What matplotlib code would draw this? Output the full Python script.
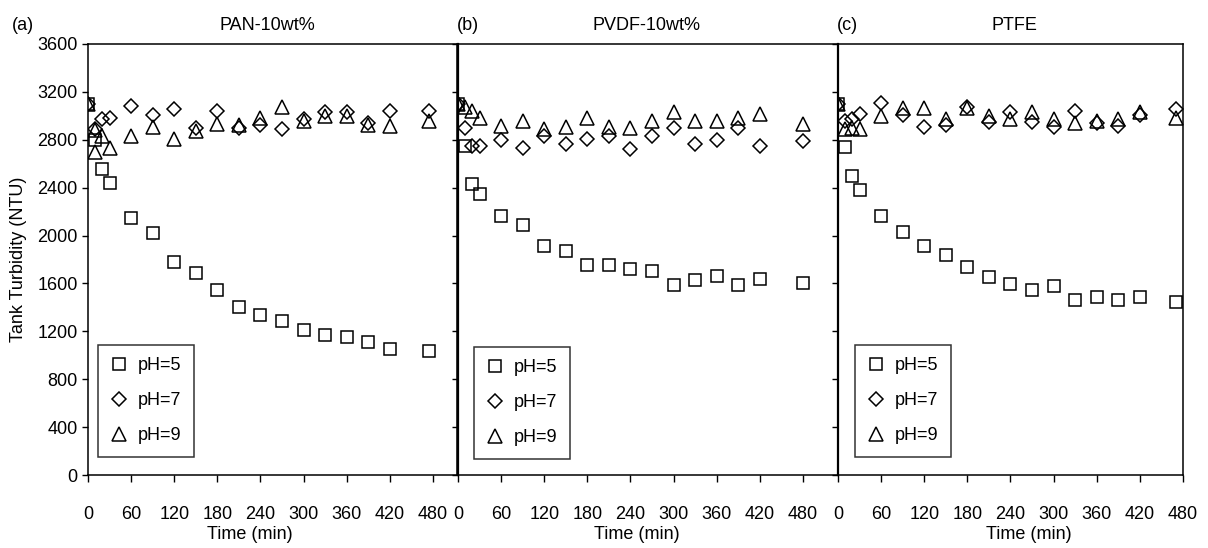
import matplotlib
matplotlib.use("Agg")
import matplotlib.pyplot as plt

plt.rcParams["font.family"] = ["Liberation Sans", "DejaVu Sans"]
plt.rcParams["font.size"] = 13

# (a) PAN-10wt%
t_a = [0, 10, 20, 30, 60, 90, 120, 150, 180, 210, 240, 270, 300, 330, 360, 390, 420, 475]
a_ph5 = [3100, 2800, 2560, 2440, 2150, 2025, 1775, 1690, 1545, 1400, 1340, 1290, 1215, 1170, 1150, 1115, 1050, 1035]
a_ph7 = [3100, 2890, 2975, 2985, 3085, 3005, 3055, 2900, 3040, 2900, 2920, 2890, 2970, 3030, 3035, 2940, 3040, 3040]
t_a9 = [0, 10, 10, 20, 30, 60, 90, 120, 150, 180, 210, 240, 270, 300, 330, 360, 390, 420, 475]
a_ph9 = [3100, 2700, 2880, 2830, 2730, 2835, 2905, 2810, 2875, 2930, 2920, 2985, 3070, 2960, 3000, 3000, 2920, 2915, 2955]

# (b) PVDF-10wt%
t_b = [0, 10, 20, 30, 60, 90, 120, 150, 180, 210, 240, 270, 300, 330, 360, 390, 420, 480]
b_ph5 = [3100, 2750, 2430, 2350, 2165, 2090, 1915, 1875, 1755, 1750, 1720, 1705, 1590, 1625, 1660, 1590, 1640, 1600]
b_ph7 = [3100, 2895, 2745, 2745, 2800, 2735, 2835, 2765, 2805, 2835, 2720, 2830, 2895, 2765, 2800, 2895, 2745, 2790]
b_ph9 = [3100, 3070, 3040, 2980, 2915, 2960, 2890, 2905, 2985, 2910, 2895, 2960, 3030, 2960, 2960, 2985, 3015, 2930]

# (c) PTFE
t_c = [0, 10, 20, 30, 60, 90, 120, 150, 180, 210, 240, 270, 300, 330, 360, 390, 420, 470]
c_ph5 = [3100, 2740, 2500, 2380, 2165, 2030, 1915, 1835, 1735, 1655, 1595, 1545, 1575, 1460, 1485, 1465, 1485, 1445]
c_ph7 = [3100, 2960, 2970, 3015, 3110, 3010, 2905, 2920, 3075, 2950, 3030, 2945, 2905, 3040, 2940, 2915, 3005, 3055]
c_ph9 = [3100, 2890, 2900, 2890, 3000, 3065, 3065, 2970, 3065, 3000, 2970, 3030, 2970, 2940, 2960, 2975, 3030, 2985]

panels = [
    ("(a)", "PAN-10wt%", t_a, a_ph5, t_a, a_ph7, t_a9, a_ph9),
    ("(b)", "PVDF-10wt%", t_b, b_ph5, t_b, b_ph7, t_b, b_ph9),
    ("(c)", "PTFE", t_c, c_ph5, t_c, c_ph7, t_c, c_ph9),
]

W, H = 1208, 548
fig = plt.figure(figsize=(W / 100, H / 100), dpi=100)

# panel frames in pixels: left, right; common top/bottom
frames = [(88, 457), (458, 838), (838, 1183)]
top, bottom = 44, 475
px_per_min = 43.1 / 60
xlabel_x = [250, 637, 1029]
tag_x = [12, 457, 837]
title_x = [267, 647, 1014]
legend_anchor = [(98, 457), (474, 459), (855, 457)]

for i, (tag, title, t5, y5, t7, y7, t9, y9) in enumerate(panels):
    l, r = frames[i]
    ax = fig.add_axes([l / W, (H - bottom) / H, (r - l) / W, (bottom - top) / H])
    ax.plot(t5, y5, ls="none", marker="s", ms=9, mfc="none", mec="black", mew=1.1, label="pH=5")
    ax.plot(t7, y7, ls="none", marker="D", ms=7.5, mfc="none", mec="black", mew=1.1, label="pH=7")
    ax.plot(t9, y9, ls="none", marker="^", ms=9.5, mfc="none", mec="black", mew=1.1, label="pH=9")

    ax.set_xlim(0, (r - l) / px_per_min)
    ax.set_ylim(0, 3600)
    ax.set_xticks(range(0, 481, 60))
    ax.set_yticks(range(0, 3601, 400))
    ax.tick_params(axis="x", direction="out", length=5, width=1, pad=17)
    ax.tick_params(axis="y", direction="out", length=4.5, width=1, pad=3)
    for s in ax.spines.values():
        s.set_linewidth(1.1)
    if i == 0:
        ax.set_ylabel("Tank Turbidity (NTU)")
        ax.yaxis.set_label_coords((27 - l) / (r - l), 0.5)
    else:
        ax.set_yticklabels([])
        ax.spines["left"].set_linewidth(1.6)

    ax.set_xlabel("Time (min)")
    ax.xaxis.set_label_coords((xlabel_x[i] - l) / (r - l), (bottom - 526) / (bottom - top))

    lx, ly = legend_anchor[i]
    leg = ax.legend(loc="lower left",
                    bbox_to_anchor=((lx - l) / (r - l), (bottom - ly) / (bottom - top)),
                    borderaxespad=0, frameon=True, fancybox=False, numpoints=1,
                    handlelength=0.9, handletextpad=0.6, borderpad=0.7,
                    labelspacing=1.0, fontsize=13)
    leg.get_frame().set_edgecolor("black")
    leg.get_frame().set_linewidth(1.1)

    fig.text(tag_x[i] / W, (H - 25) / H, tag, ha="left", va="center", fontsize=13)
    fig.text(title_x[i] / W, (H - 25) / H, title, ha="center", va="center", fontsize=13)

fig.savefig("out.png", dpi=100)
